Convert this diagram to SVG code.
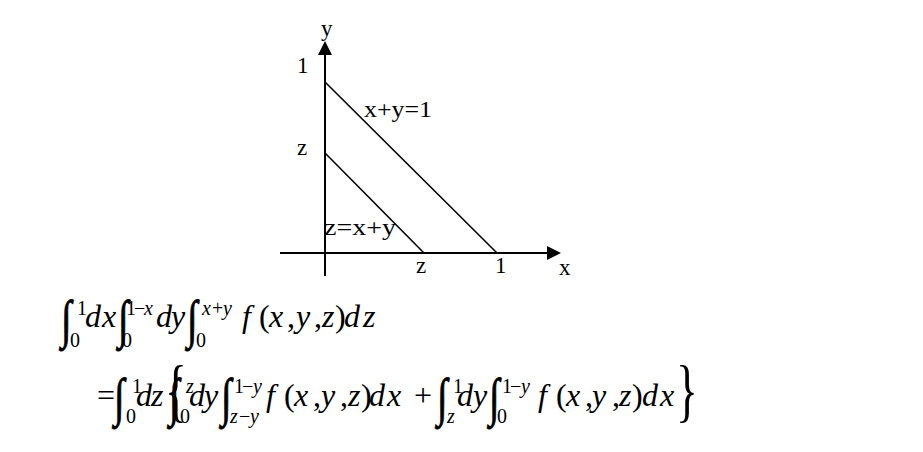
<svg xmlns="http://www.w3.org/2000/svg" width="923" height="452" viewBox="0 0 923 452">
<style>
.t{font-family:"Liberation Serif","Times New Roman",serif;fill:#000}
.lbl{font-size:23px}
.m{font-size:32px}
.s{font-size:20px}
.i{font-style:italic}
.int{font-size:48px;stroke:#000;stroke-width:0.8}
.br{font-size:70px}
.ax{stroke:#000;stroke-width:2;fill:none}
.ln{stroke:#000;stroke-width:1.6;fill:none}
</style>
<defs>
<marker id="ah" viewBox="0 0 14 14" refX="0" refY="7" markerWidth="14" markerHeight="14" markerUnits="userSpaceOnUse" orient="auto">
<path d="M0,0 L14,7 L0,14 Z" fill="#000"/>
</marker>
</defs>
<rect width="923" height="452" fill="#fff"/>
<g id="axes">
<line class="ax" x1="280" y1="253" x2="547" y2="253" marker-end="url(#ah)"/>
<line class="ax" x1="325" y1="276" x2="325" y2="55" marker-end="url(#ah)"/>
</g>
<g id="lines">
<line class="ln" x1="325" y1="82" x2="497" y2="253"/>
<line class="ln" x1="325" y1="153" x2="424" y2="253"/>
</g>
<g id="labels" class="t lbl">
<text x="321" y="36">y</text>
<text x="297" y="73">1</text>
<text x="297" y="155">z</text>
<text x="364" y="117" textLength="68" lengthAdjust="spacingAndGlyphs">x+y=1</text>
<text x="324" y="235" textLength="72" lengthAdjust="spacingAndGlyphs">z=x+y</text>
<text x="416" y="273">z</text>
<text x="495" y="273">1</text>
<text x="559" y="275">x</text>
</g>
<g id="eq1" class="t">
<text class="int" transform="translate(61,337) scale(0.8,1.1)">∫</text>
<text class="s" x="77" y="315">1</text>
<text class="s" x="70" y="347">0</text>
<text class="m i" y="327"><tspan x="85">d</tspan><tspan x="102">x</tspan></text>
<text class="int" transform="translate(118,337) scale(0.8,1.1)">∫</text>
<text class="s" y="315"><tspan x="126">1</tspan><tspan x="134">−</tspan><tspan class="i" x="144">x</tspan></text>
<text class="s" x="122" y="347">0</text>
<text class="m i" y="327"><tspan x="156">d</tspan><tspan x="171">y</tspan></text>
<text class="int" transform="translate(187,337) scale(0.8,1.1)">∫</text>
<text class="s" y="315"><tspan class="i" x="202">x</tspan><tspan x="212">+</tspan><tspan class="i" x="223">y</tspan></text>
<text class="s" x="196" y="347">0</text>
<text class="m" y="327"><tspan class="i" x="242">f</tspan><tspan x="259">(</tspan><tspan class="i" x="269">x</tspan><tspan x="287">,</tspan><tspan class="i" x="296">y</tspan><tspan x="314">,</tspan><tspan class="i" x="322">z</tspan><tspan x="335">)</tspan><tspan class="i" x="344">d</tspan><tspan class="i" x="363">z</tspan></text>
</g>
<g id="eq2" class="t">
<text class="m" x="97" y="406">=</text>
<text class="int" transform="translate(114,415) scale(0.8,1.1)">∫</text>
<text class="s" x="132" y="393">1</text>
<text class="s" x="126" y="423">0</text>
<text class="m i" y="406"><tspan x="136">d</tspan><tspan x="151">z</tspan></text>
<text class="br" transform="translate(165,414) scale(0.65,1)">{</text>
<text class="int" transform="translate(169,415) scale(0.8,1.1)">∫</text>
<text class="s i" x="186" y="393">z</text>
<text class="s" x="180" y="423">0</text>
<text class="m i" y="406"><tspan x="189">d</tspan><tspan x="204">y</tspan></text>
<text class="int" transform="translate(221,415) scale(0.8,1.1)">∫</text>
<text class="s" y="393"><tspan x="234">1</tspan><tspan x="242">−</tspan><tspan class="i" x="253">y</tspan></text>
<text class="s" y="423"><tspan class="i" x="230">z</tspan><tspan x="239">−</tspan><tspan class="i" x="250">y</tspan></text>
<text class="m" y="406"><tspan class="i" x="266">f</tspan><tspan x="284">(</tspan><tspan class="i" x="294">x</tspan><tspan x="313">,</tspan><tspan class="i" x="321">y</tspan><tspan x="340">,</tspan><tspan class="i" x="348">z</tspan><tspan x="361">)</tspan><tspan class="i" x="369">d</tspan><tspan class="i" x="387">x</tspan></text>
<text class="m" x="414" y="406">+</text>
<text class="int" transform="translate(437,415) scale(0.8,1.1)">∫</text>
<text class="s" x="453" y="393">1</text>
<text class="s i" x="447" y="423">z</text>
<text class="m i" y="406"><tspan x="457">d</tspan><tspan x="473">y</tspan></text>
<text class="int" transform="translate(489,415) scale(0.8,1.1)">∫</text>
<text class="s" y="393"><tspan x="502">1</tspan><tspan x="510">−</tspan><tspan class="i" x="521">y</tspan></text>
<text class="s" x="497" y="423">0</text>
<text class="m" y="406"><tspan class="i" x="538">f</tspan><tspan x="556">(</tspan><tspan class="i" x="566">x</tspan><tspan x="585">,</tspan><tspan class="i" x="592">y</tspan><tspan x="612">,</tspan><tspan class="i" x="619">z</tspan><tspan x="632">)</tspan><tspan class="i" x="642">d</tspan><tspan class="i" x="660">x</tspan></text>
<text class="br" transform="translate(676,414) scale(0.65,1)">}</text>
</g>
</svg>
